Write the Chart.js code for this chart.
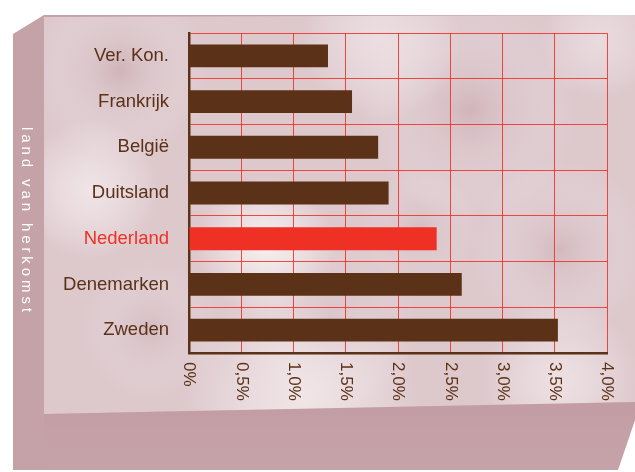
<!DOCTYPE html>
<html>
<head>
<meta charset="utf-8">
<script src="https://cdn.jsdelivr.net/npm/chart.js@4"></script>
<style>
  html, body { margin: 0; padding: 0; background: #fff; }
  #wrap { width: 635px; height: 472px; }
</style>
</head>
<body>
<div id="wrap"><canvas id="chart" width="635" height="472"></canvas></div>
<script>
const categories = ["Ver. Kon.", "Frankrijk", "België", "Duitsland", "Nederland", "Denemarken", "Zweden"];
const shares = [1.33, 1.56, 1.81, 1.91, 2.37, 2.61, 3.53];
const tickValues = [0, 0.5, 1, 1.5, 2, 2.5, 3, 3.5, 4];
const tickLabels = ["0%", "0,5%", "1,0%", "1,5%", "2,0%", "2,5%", "3,0%", "3,5%", "4,0%"];
const highlight = "Nederland";
const axisTitle = "land van herkomst";

const BROWN = "#5b3118";
const RED = "#ee3124";
const FONT = "'Liberation Sans', Arial, sans-serif";

function blob(ctx, x, y, r, color) {
  const g = ctx.createRadialGradient(x, y, 0, x, y, r);
  g.addColorStop(0, color);
  g.addColorStop(1, "rgba(255,255,255,0)");
  ctx.fillStyle = g;
  ctx.fillRect(x - r, y - r, r * 2, r * 2);
}

// stone slab behind the chart
const slabPlugin = {
  id: "slab",
  beforeDraw(chart) {
    const ctx = chart.ctx;
    ctx.save();
    ctx.fillStyle = "#ffffff";
    ctx.fillRect(0, 0, chart.width, chart.height);

    // side + bottom faces
    ctx.fillStyle = "#c5a1a8";
    ctx.beginPath();
    ctx.moveTo(13, 34);
    ctx.lineTo(44, 15);
    ctx.lineTo(635, 15);
    ctx.lineTo(635, 420);
    ctx.lineTo(618, 470);
    ctx.lineTo(13, 470);
    ctx.closePath();
    ctx.fill();

    // front face
    ctx.save();
    ctx.beginPath();
    ctx.moveTo(44, 17);
    ctx.lineTo(635, 15);
    ctx.lineTo(635, 402);
    ctx.lineTo(44, 414);
    ctx.closePath();
    ctx.clip();
    ctx.fillStyle = "#ddc8cc";
    ctx.fillRect(0, 0, 635, 472);
    blob(ctx, 120, 70, 90, "rgba(196,164,171,0.55)");
    blob(ctx, 470, 110, 110, "rgba(196,162,170,0.5)");
    blob(ctx, 560, 250, 90, "rgba(200,170,177,0.5)");
    blob(ctx, 330, 320, 90, "rgba(198,166,173,0.45)");
    blob(ctx, 150, 330, 70, "rgba(200,172,178,0.45)");
    blob(ctx, 420, 230, 60, "rgba(200,170,177,0.4)");
    blob(ctx, 90, 190, 70, "rgba(248,240,242,0.7)");
    blob(ctx, 265, 245, 70, "rgba(252,246,247,0.85)");
    blob(ctx, 300, 400, 120, "rgba(248,240,242,0.7)");
    blob(ctx, 560, 380, 80, "rgba(248,240,242,0.6)");
    blob(ctx, 380, 40, 80, "rgba(245,236,238,0.6)");
    blob(ctx, 600, 40, 60, "rgba(245,236,238,0.5)");
    ctx.restore();

    // subtle shading of bottom face
    const g = ctx.createLinearGradient(0, 410, 0, 470);
    g.addColorStop(0, "rgba(190,150,158,0.35)");
    g.addColorStop(1, "rgba(200,165,172,0)");
    ctx.fillStyle = g;
    ctx.beginPath();
    ctx.moveTo(44, 414);
    ctx.lineTo(635, 402);
    ctx.lineTo(635, 420);
    ctx.lineTo(618, 470);
    ctx.lineTo(44, 470);
    ctx.closePath();
    ctx.fill();
    ctx.restore();
  }
};

// rotated x tick labels and the side title (text reads top to bottom)
const labelsPlugin = {
  id: "labels",
  afterDraw(chart) {
    const ctx = chart.ctx;
    const xs = chart.scales.x;
    ctx.save();
    ctx.fillStyle = BROWN;
    ctx.font = "17px " + FONT;
    ctx.textAlign = "left";
    ctx.textBaseline = "middle";
    tickValues.forEach((v, i) => {
      const x = xs.getPixelForValue(v);
      ctx.save();
      ctx.translate(x, chart.chartArea.bottom + 9);
      ctx.rotate(Math.PI / 2);
      ctx.fillText(tickLabels[i], 0, 0);
      ctx.restore();
    });

    ctx.fillStyle = "#ffffff";
    ctx.font = "15px " + FONT;
    ctx.letterSpacing = "3.9px";
    ctx.translate(26, 127);
    ctx.rotate(Math.PI / 2);
    ctx.fillText(axisTitle, 0, 0);
    ctx.restore();
  }
};

new Chart(document.getElementById("chart"), {
  type: "bar",
  data: {
    labels: categories,
    datasets: [{
      data: shares,
      backgroundColor: categories.map((c) => (c === highlight ? RED : BROWN)),
      borderWidth: 0,
      barPercentage: 0.5,
      categoryPercentage: 1,
    }],
  },
  options: {
    indexAxis: "y",
    responsive: false,
    animation: false,
    layout: { padding: { left: 0, top: 33, right: 28, bottom: 0 } },
    plugins: { legend: { display: false }, tooltip: { enabled: false } },
    scales: {
      x: {
        min: 0,
        max: 4,
        ticks: { display: false, stepSize: 0.5 },
        grid: { color: "rgba(240,45,35,0.85)", lineWidth: 1, drawTicks: false },
        border: { color: BROWN, width: 2.5 },
        afterFit(scale) { scale.height = 472 - 353; },
      },
      y: {
        ticks: {
          padding: 20,
          color: (c) => (categories[c.index] === highlight ? RED : BROWN),
          font: { family: FONT, size: 18.5 },
        },
        grid: { color: "rgba(240,45,35,0.85)", lineWidth: 1, drawTicks: false, offset: true },
        border: { color: BROWN, width: 2.5 },
        afterFit(scale) { scale.width = 189; },
      },
    },
  },
  plugins: [slabPlugin, labelsPlugin],
});
</script>
</body>
</html>
